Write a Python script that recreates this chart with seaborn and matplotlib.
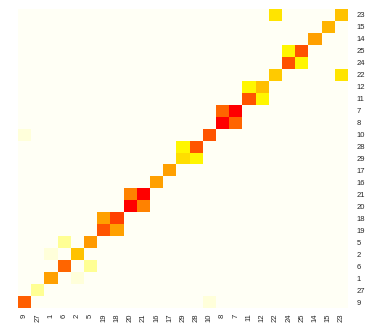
import numpy as np
import pandas as pd
import matplotlib
matplotlib.use("Agg")
import matplotlib.pyplot as plt
from matplotlib.colors import ListedColormap, hsv_to_rgb
import seaborn as sns

# Cluster order of the items (same order on both axes)
order = ["9", "27", "1", "6", "2", "5", "19", "18", "20", "21", "16", "17",
         "29", "28", "10", "8", "7", "11", "12", "22", "24", "25", "14", "15", "23"]

# Non-zero entries of the matrix: row label, column label, value
row_labels = ["23", "23", "15", "14", "25", "25", "24", "24", "22", "22",
              "12", "12", "11", "11", "7", "7", "8", "8", "10", "10",
              "28", "28", "29", "29", "17", "16", "21", "21", "20", "20",
              "18", "18", "19", "19", "5", "5", "2", "2", "6", "6",
              "1", "1", "27", "9", "9"]
col_labels = ["22", "23", "15", "14", "24", "25", "24", "25", "22", "23",
              "11", "12", "11", "12", "8", "7", "8", "7", "10", "9",
              "29", "28", "29", "28", "17", "16", "20", "21", "20", "21",
              "19", "18", "19", "18", "6", "5", "1", "2", "6", "5",
              "1", "2", "27", "9", "10"]
values = [0.33, 0.43, 0.47, 0.53, 0.28, 0.76, 0.76, 0.28, 0.41, 0.33,
          0.28, 0.44, 0.75, 0.28, 0.70, 1.00, 1.00, 0.70, 0.75, 0.03,
          0.28, 0.75, 0.35, 0.28, 0.53, 0.53, 0.62, 1.00, 1.00, 0.62,
          0.53, 0.81, 0.75, 0.53, 0.10, 0.55, 0.03, 0.43, 0.70, 0.10,
          0.53, 0.03, 0.10, 0.72, 0.03]

mat = pd.DataFrame(0.0, index=order[::-1], columns=order)
for r, c, v in zip(row_labels, col_labels, values):
    mat.loc[r, c] = v

# Reversed "heat" palette: near-white -> pale yellow -> yellow -> orange -> red
n = 256
j = n // 4
i = n - j
hues = np.linspace(0, 1 / 6, i)
warm = hsv_to_rgb(np.column_stack([hues, np.ones(i), np.ones(i)]))
sats = np.linspace(1 - 1 / (2 * j), 0.04, j)
pale = hsv_to_rgb(np.column_stack([np.full(j, 1 / 6), sats, np.ones(j)]))
cmap = ListedColormap(np.vstack([warm, pale])[::-1])

sns.set_style("white")
plt.rcParams["font.family"] = ["Liberation Sans", "DejaVu Sans"]

fig = plt.figure(figsize=(3.84, 3.25), dpi=100)
ax = fig.add_axes([18 / 384, 1 - 308 / 325, 330 / 384, 299 / 325])
sns.heatmap(mat, ax=ax, cmap=cmap, vmin=0, vmax=1, cbar=False,
            xticklabels=True, yticklabels=True, linewidths=0)
ax.yaxis.tick_right()
ax.tick_params(axis="both", length=0, labelsize=5.5)
ax.tick_params(axis="y", pad=6, labelrotation=0)
ax.tick_params(axis="x", pad=4, labelrotation=90)
for lab in ax.get_yticklabels():
    lab.set_horizontalalignment("left")
ax.set_xlabel("")
ax.set_ylabel("")
for s in ax.spines.values():
    s.set_visible(False)

fig.savefig("out.png", dpi=100, facecolor="white")
